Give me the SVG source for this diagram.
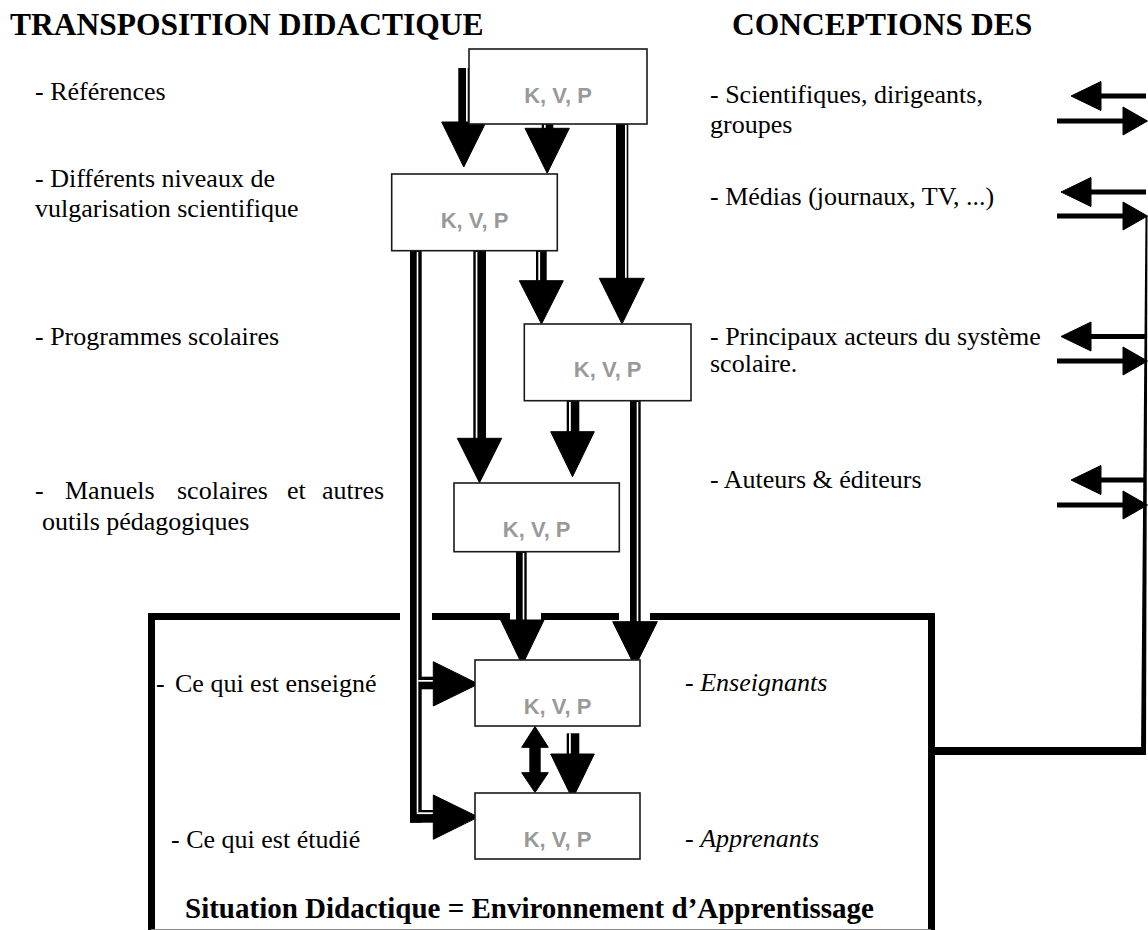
<svg xmlns="http://www.w3.org/2000/svg" width="1148" height="930" viewBox="0 0 1148 930">
<style>
.t{font-family:"Liberation Serif","Times New Roman",serif;font-size:26px;fill:#000}
.i{font-style:italic}
.h{font-family:"Liberation Serif","Times New Roman",serif;font-weight:bold;font-size:31.5px;fill:#000}
.s{font-family:"Liberation Serif","Times New Roman",serif;font-weight:bold;font-size:29px;fill:#000}
.k{font-family:"Liberation Sans",Arial,sans-serif;font-weight:bold;font-size:22px;fill:#999;text-anchor:middle}
.box{fill:#fff;stroke:#1a1a1a;stroke-width:1.6}
.sh{fill:#000}
.wl{fill:#fff}
.ah{fill:#000;stroke:#000;stroke-width:1;stroke-linejoin:miter}
.frame{fill:none;stroke:#000;stroke-width:7;stroke-linecap:butt;stroke-linejoin:miter}
</style>
<rect width="1148" height="930" fill="#fff"/>

<g id="titles">
<text class="h" x="10" y="35">TRANSPOSITION DIDACTIQUE</text>
<text class="h" x="732" y="35">CONCEPTIONS DES</text>
</g>

<g id="left-labels">
<text class="t" x="35" y="100">- Références</text>
<text class="t" x="35" y="187">- Différents niveaux de</text>
<text class="t" x="35" y="217">vulgarisation scientifique</text>
<text class="t" x="35" y="345">- Programmes scolaires</text>
<text class="t" y="499"><tspan x="35">-</tspan><tspan x="65">Manuels</tspan><tspan x="177">scolaires</tspan><tspan x="287">et</tspan><tspan x="322">autres</tspan></text>
<text class="t" x="42" y="530">outils pédagogiques</text>
</g>

<g id="right-labels">
<text class="t" x="710" y="103">- Scientifiques, dirigeants,</text>
<text class="t" x="710" y="133">groupes</text>
<text class="t" x="710" y="205">- Médias (journaux, TV, ...)</text>
<text class="t" x="710" y="345">- Principaux acteurs du système</text>
<text class="t" x="710" y="372">scolaire.</text>
<text class="t" x="710" y="488">- Auteurs &amp; éditeurs</text>
</g>

<g id="situation">
<path class="frame" d="M151.5 930 V616.5 H400"/>
<path class="frame" d="M432 616.5 H510"/>
<path class="frame" d="M541 616.5 H619"/>
<path class="frame" d="M650 616.5 H931.5 V930"/>
<line x1="151" y1="929.5" x2="931" y2="929.5" stroke="#888" stroke-width="1"/>
<text class="t" y="692"><tspan x="156">-</tspan><tspan x="175">Ce qui est enseigné</tspan></text>
<text class="t" x="171" y="848">- Ce qui est étudié</text>
<text class="t" x="685" y="691">- <tspan class="i">Enseignants</tspan></text>
<text class="t" x="685" y="847">- <tspan class="i">Apprenants</tspan></text>
<text class="s" x="185" y="918">Situation Didactique = Environnement d’Apprentissage</text>
</g>

<g id="connectors">
<!-- A: into Différents -->
<rect class="sh" x="458.3" y="68" width="11.7" height="55"/>
<rect class="wl" x="466" y="68" width="1.7" height="54"/>
<polygon class="ah" points="441.7,122 486,122 463.8,167"/>
<!-- B -->
<rect class="sh" x="541.7" y="124" width="11.6" height="5"/>
<rect class="wl" x="544" y="124.5" width="1.7" height="4"/>
<polygon class="ah" points="525,128.3 569.3,128.3 547.2,173.3"/>
<!-- C -->
<rect class="sh" x="616" y="124" width="12.3" height="155"/>
<rect class="wl" x="625" y="125" width="1.7" height="154"/>
<polygon class="ah" points="599.3,278.3 644.3,278.3 622,324"/>
<!-- D -->
<rect class="sh" x="536" y="251" width="10.7" height="30"/>
<rect class="wl" x="538.3" y="252" width="1.8" height="29"/>
<polygon class="ah" points="519.3,280.7 563.3,280.7 541.5,324"/>
<!-- E -->
<rect class="sh" x="473.3" y="251" width="12.7" height="188"/>
<rect class="wl" x="475.7" y="252" width="1.7" height="187"/>
<polygon class="ah" points="457.3,438.3 501.7,438.3 479.5,482.7"/>
<!-- F -->
<rect class="sh" x="566.7" y="401" width="12.6" height="31"/>
<rect class="wl" x="569" y="402" width="1.8" height="30"/>
<polygon class="ah" points="550.7,431.7 594.3,431.7 572.5,476.7"/>
<!-- G: long L line -->
<rect class="sh" x="410" y="251" width="11.7" height="571.7"/>
<rect class="sh" x="410" y="810" width="24" height="12.7"/>
<rect class="sh" x="416" y="676.7" width="18" height="12.6"/>
<rect class="wl" x="416.7" y="252" width="1.6" height="560.3"/>
<rect class="wl" x="416.7" y="812.3" width="17.3" height="1.8"/>
<rect class="wl" x="418.3" y="680" width="15.7" height="1.7"/>
<polygon class="ah" points="433.3,661.7 433.3,706 478.3,684"/>
<polygon class="ah" points="433.3,795 433.3,839.3 478.3,817"/>
<!-- H -->
<rect class="sh" x="516" y="552" width="10.7" height="69"/>
<rect class="wl" x="522.7" y="553" width="1.6" height="68"/>
<polygon class="ah" points="500.7,620 544,620 522.3,665"/>
<!-- I -->
<rect class="sh" x="630" y="401" width="10.7" height="222"/>
<rect class="wl" x="636.7" y="402" width="1.6" height="221"/>
<polygon class="ah" points="612.7,621.7 657.3,621.7 635,666.7"/>
<!-- J: double arrow -->
<rect class="sh" x="529.3" y="746" width="11.4" height="28"/>
<polygon class="ah" points="535,726.5 548.3,747.3 521.7,747.3"/>
<polygon class="ah" points="521.7,772.7 548.3,772.7 535,792.5"/>
<!-- K -->
<rect class="sh" x="566.7" y="733.3" width="12.6" height="21.7"/>
<rect class="wl" x="569" y="733.3" width="1.8" height="21"/>
<polygon class="ah" points="550.7,754 594.3,754 572.5,799"/>

<!-- right side two-way arrows -->
<rect class="sh" x="1100" y="93.5" width="46" height="5"/>
<polygon class="ah" points="1071,96 1101,81.5 1101,110.5"/>
<rect class="sh" x="1057" y="118.5" width="67" height="5"/>
<polygon class="ah" points="1123,107 1123,135 1147.5,121"/>

<rect class="sh" x="1090" y="189.5" width="56" height="5"/>
<polygon class="ah" points="1061,192 1091,177.5 1091,206.5"/>
<rect class="sh" x="1057" y="213.5" width="67" height="5"/>
<polygon class="ah" points="1123,202 1123,230 1147.5,216"/>

<rect class="sh" x="1090" y="334" width="56" height="5"/>
<polygon class="ah" points="1061,336.5 1091,322 1091,351"/>
<rect class="sh" x="1057" y="358.5" width="67" height="5"/>
<polygon class="ah" points="1123,347 1123,375 1147.5,361"/>

<rect class="sh" x="1100" y="477.5" width="46" height="5"/>
<polygon class="ah" points="1071,480 1101,465.5 1101,494.5"/>
<rect class="sh" x="1057" y="502.5" width="67" height="5"/>
<polygon class="ah" points="1123,491 1123,519 1147.5,505"/>

<!-- return line to situation -->
<polygon class="sh" points="1145.5,216 1147.5,216 1146,755 1141,755"/>
<rect class="sh" x="928" y="747" width="218" height="8"/>
</g>

<g id="node-references">
<rect class="box" x="469" y="49" width="178" height="75"/>
<text class="k" x="558" y="103">K, V, P</text>
</g>
<g id="node-vulgarisation">
<rect class="box" x="391.7" y="174" width="165.6" height="76.7"/>
<text class="k" x="474.5" y="228">K, V, P</text>
</g>
<g id="node-programmes">
<rect class="box" x="524.3" y="324" width="166.7" height="76.7"/>
<text class="k" x="607.7" y="377">K, V, P</text>
</g>
<g id="node-manuels">
<rect class="box" x="454" y="483" width="165.3" height="68.7"/>
<text class="k" x="536.7" y="537">K, V, P</text>
</g>
<g id="node-enseignants">
<rect class="box" x="475" y="660" width="165" height="66"/>
<text class="k" x="557.5" y="714">K, V, P</text>
</g>
<g id="node-apprenants">
<rect class="box" x="475" y="793" width="165" height="66"/>
<text class="k" x="557.5" y="847">K, V, P</text>
</g>
</svg>
